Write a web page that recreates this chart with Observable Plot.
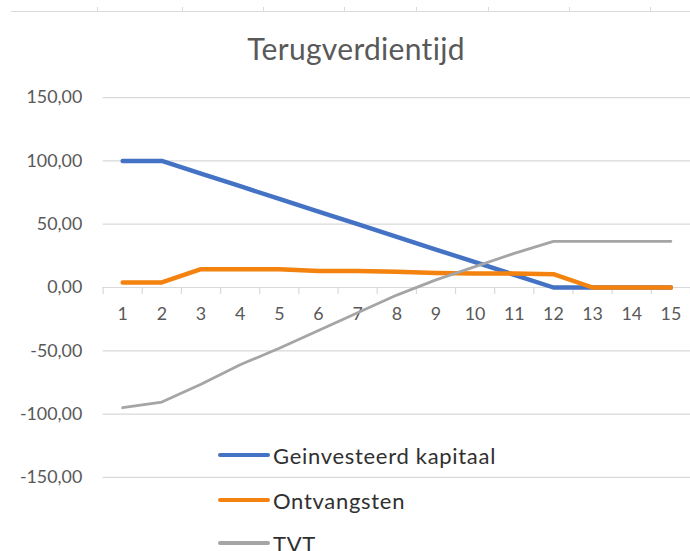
<!DOCTYPE html>
<html>
<head>
<meta charset="utf-8">
<script src="https://cdn.jsdelivr.net/npm/d3@7"></script>
<script src="https://cdn.jsdelivr.net/npm/@observablehq/plot@0.6"></script>
<style>
  html, body { margin: 0; padding: 0; background: #fff; }
  #wrap { position: relative; width: 690px; height: 551px; overflow: hidden; font-family: Lato, "Open Sans", sans-serif; }
  #wrap svg { position: absolute; left: 0; top: 0; }
  .topline { position: absolute; left: 11px; right: 0; top: 11px; height: 0; border-top: 1.5px solid #d9d9d9; }
  .toptick { position: absolute; top: 7px; width: 0; height: 5px; border-left: 1.5px solid #d9d9d9; }
  #title { position: absolute; left: 0; width: 712px; top: 30px; text-align: center; font-size: 30px; font-weight: 400; color: #595959; letter-spacing: 0.3px; }
  .leg { position: absolute; left: 218px; height: 22px; display: flex; align-items: center; }
  .leg .sw { width: 52px; height: 3.5px; border-radius: 2px; }
  .leg .lab { margin-left: 3px; font-size: 22px; color: #303030; white-space: nowrap; letter-spacing: 0.7px; }
</style>
</head>
<body>
<div id="wrap">
  <div class="topline"></div>
  <div id="title">Terugverdientijd</div>
</div>
<script>
// ---- data ----
const years = [1, 2, 3, 4, 5, 6, 7, 8, 9, 10, 11, 12, 13, 14, 15];
const kapitaal = [100, 100, 90, 80, 70, 60, 50, 40, 30, 20, 10, 0, 0, 0, 0];
const ontvangsten = [4, 4, 14.5, 14.5, 14.5, 13, 13, 12.5, 11.5, 11, 11, 10.5, 0, 0, 0];
const tvt = [-95, -90.5, -76.5, -61, -48, -34, -20, -6, 6, 16.5, 27, 36.5, 36.5, 36.5, 36.5];
const seriesNames = ["Geinvesteerd kapitaal", "Ontvangsten", "TVT"];
const seriesColors = ["#4472C4", "#F4820F", "#A5A5A5"];
const seriesWidths = [4.5, 4.5, 2.8];
const yTicks = [-150, -100, -50, 0, 50, 100, 150];
const topTicks = [97, 182, 263, 344, 416, 488, 569, 650];

const seriesValues = [kapitaal, ontvangsten, tvt];
const rows = seriesNames.map((name, s) => years.map((yr, i) => ({series: name, year: yr, value: seriesValues[s][i]})));
const boundaries = d3.range(0.5, years.length + 1, 1);
const fmt = d => d.toFixed(2).replace(".", ",");

const wrap = document.getElementById("wrap");
topTicks.forEach(x => {
  const t = document.createElement("div");
  t.className = "toptick";
  t.style.left = x + "px";
  wrap.appendChild(t);
});

const chart = Plot.plot({
  width: 696,
  height: 551,
  marginTop: 98,
  marginBottom: 70,
  marginLeft: 103.5,
  marginRight: 0,
  style: {fontFamily: "Lato, 'Open Sans', sans-serif", fontSize: "18px", color: "#595959", background: "transparent", overflow: "visible"},
  x: {domain: [0.5, years.length + 0.5], axis: null},
  y: {domain: [-150, 150], ticks: yTicks, tickFormat: fmt, label: null},
  marks: [
    Plot.ruleY(yTicks.filter(d => d !== 0), {stroke: "#d9d9d9", strokeWidth: 1.2}),
    Plot.axisY({ticks: yTicks, tickFormat: fmt, tickSize: 0, tickPadding: 21, label: null, fill: "#595959", fontSize: 18}),
    Plot.ruleY([0], {stroke: "#d9d9d9", strokeWidth: 1.2}),
    Plot.ruleX(boundaries, {x: d => d, y1: 0, y2: 0, insetBottom: -7, stroke: "#d9d9d9", strokeWidth: 1.2}),
    Plot.text(years, {x: d => d, y: 0, dy: 27, text: d => String(d), fill: "#595959", fontSize: 18}),
    ...rows.map((r, s) => Plot.line(r, {x: "year", y: "value", stroke: seriesColors[s], strokeWidth: seriesWidths[s], strokeLinecap: "round", strokeLinejoin: "round"}))
  ]
});
wrap.insertBefore(chart, wrap.firstChild);

// legend (overlay, as in the reference)
const legTops = [444, 489, 532];
seriesNames.forEach((name, s) => {
  const el = document.createElement("div");
  el.className = "leg";
  el.style.top = legTops[s] + "px";
  el.innerHTML = `<div class="sw" style="background:${seriesColors[s]};height:${s === 2 ? 3.5 : 4}px"></div><div class="lab">${name}</div>`;
  wrap.appendChild(el);
});
</script>
</body>
</html>
